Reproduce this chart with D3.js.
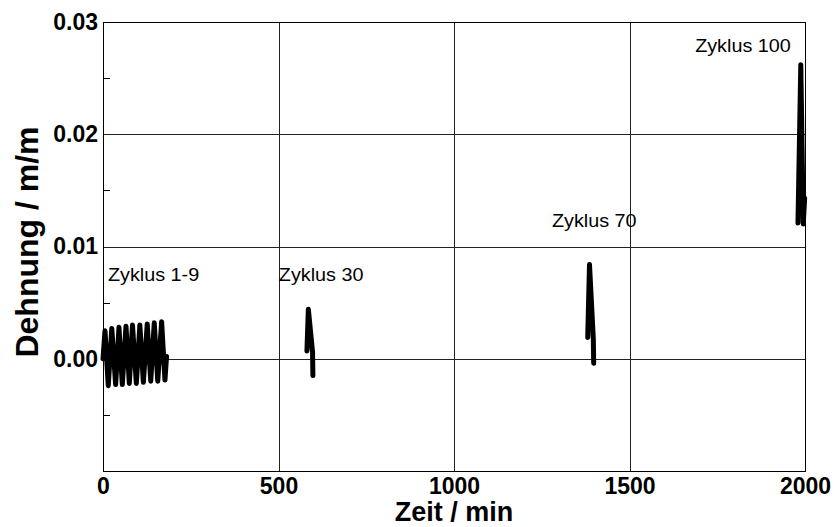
<!DOCTYPE html>
<html>
<head>
<meta charset="utf-8">
<script src="https://cdn.jsdelivr.net/npm/d3@7"></script>
<style>
  body { margin: 0; background: #fff; }
  svg { display: block; font-family: "Liberation Sans", Arial, sans-serif; }
</style>
</head>
<body>
<svg id="chart"></svg>
<script>
// Zyklus 1-9: Zeit (min) und Dehnung (m/m)
var zeit1bis9 = [0, 5.7, 15, 25, 36, 45.5, 55, 65.5, 75, 84, 95, 105, 115, 126, 136, 146, 156, 167, 176.5, 181];
var dehnung1bis9 = [0.0000, 0.0025, -0.0024, 0.0027, -0.0023, 0.0028, -0.0023, 0.0029, -0.0022, 0.0030,
                    -0.0022, 0.0030, -0.0021, 0.0031, -0.0020, 0.0032, -0.0020, 0.0033, -0.0019, 0.0002];

var zeit30 = [581, 585, 597, 598];
var dehnung30 = [0.0007, 0.0044, 0.0006, -0.0015];

var zeit70 = [1381, 1386, 1397, 1398];
var dehnung70 = [0.0019, 0.0084, 0.0017, -0.0004];

var zeit100 = [1980, 1988, 1995, 1999];
var dehnung100 = [0.0121, 0.0262, 0.0120, 0.0143];

var xTicks = [0, 500, 1000, 1500, 2000];
var yTicks = [0.00, 0.01, 0.02, 0.03];
var yMinorTicks = [-0.005, 0.005, 0.015, 0.025];

// Beschriftungen (Zeit, Dehnung)
var beschriftungen = ["Zyklus 1-9", "Zyklus 30", "Zyklus 70", "Zyklus 100"];
var beschriftungZeit = [14, 501, 1279, 1687];
var beschriftungDehnung = [0.0069, 0.0069, 0.0117, 0.0273];

var width = 834, height = 527;
var margin = {top: 22, right: 29, bottom: 56, left: 103};
var w = width - margin.left - margin.right;
var h = height - margin.top - margin.bottom;

var svg = d3.select("#chart").attr("width", width).attr("height", height);
var g = svg.append("g").attr("transform", "translate(" + margin.left + "," + margin.top + ")");

var x = d3.scaleLinear().domain([0, 2000]).range([0, w]);
var y = d3.scaleLinear().domain([-0.01, 0.03]).range([h, 0]);

// Gitter
g.append("g")
  .selectAll("line")
  .data(xTicks.slice(1, -1))
  .enter().append("line")
  .attr("x1", function(d){ return Math.round(x(d)) + 0.5; })
  .attr("x2", function(d){ return Math.round(x(d)) + 0.5; })
  .attr("y1", 0).attr("y2", h)
  .attr("stroke", "#222").attr("stroke-width", 1);

g.append("g")
  .selectAll("line")
  .data(yTicks.slice(0, -1))
  .enter().append("line")
  .attr("x1", 0).attr("x2", w)
  .attr("y1", function(d){ return Math.round(y(d)) + 0.5; })
  .attr("y2", function(d){ return Math.round(y(d)) + 0.5; })
  .attr("stroke", "#222").attr("stroke-width", 1);

// kleine Ticks innen
g.append("g")
  .selectAll("line")
  .data(yMinorTicks)
  .enter().append("line")
  .attr("x1", 0).attr("x2", 7)
  .attr("y1", function(d){ return Math.round(y(d)) + 0.5; })
  .attr("y2", function(d){ return Math.round(y(d)) + 0.5; })
  .attr("stroke", "#000");

// Achsen
var xAxis = g.append("g")
  .attr("transform", "translate(0," + h + ")")
  .call(d3.axisBottom(x).tickValues(xTicks).tickSize(0).tickPadding(7).tickFormat(d3.format("d")));
xAxis.select(".domain").remove();
xAxis.selectAll("text").attr("font-size", 23).attr("font-weight", "bold").attr("fill", "#000")
  .attr("font-family", "Liberation Sans, Arial, sans-serif");

var yAxis = g.append("g")
  .call(d3.axisLeft(y).tickValues(yTicks).tickSize(0).tickPadding(5).tickFormat(d3.format(".2f")));
yAxis.select(".domain").remove();
yAxis.selectAll("text").attr("font-size", 23).attr("font-weight", "bold").attr("fill", "#000")
  .attr("font-family", "Liberation Sans, Arial, sans-serif");

// Rahmen
g.append("rect")
  .attr("x", 0.5).attr("y", 0.5).attr("width", w).attr("height", h)
  .attr("fill", "none").attr("stroke", "#000").attr("stroke-width", 1);

// Kurven
var linie = d3.line()
  .x(function(d){ return x(d[0]); })
  .y(function(d){ return y(d[1]); });

var kurven = [
  d3.zip(zeit1bis9, dehnung1bis9),
  d3.zip(zeit30, dehnung30),
  d3.zip(zeit70, dehnung70),
  d3.zip(zeit100, dehnung100)
];

g.selectAll("path.kurve")
  .data(kurven)
  .enter().append("path")
  .attr("class", "kurve")
  .attr("d", linie)
  .attr("fill", "none")
  .attr("stroke", "#000")
  .attr("stroke-width", 5)
  .attr("stroke-linejoin", "round")
  .attr("stroke-linecap", "round");

// Beschriftungen
g.selectAll("text.zyklus")
  .data(beschriftungen)
  .enter().append("text")
  .attr("class", "zyklus")
  .attr("transform", function(d, i){
    return "translate(" + x(beschriftungZeit[i]) + "," + y(beschriftungDehnung[i]) + ") scale(1.1,1)";
  })
  .attr("font-size", 18)
  .text(function(d){ return d; });

// Achsentitel
svg.append("text")
  .attr("x", margin.left + w / 2)
  .attr("y", 521)
  .attr("text-anchor", "middle")
  .attr("font-size", 27)
  .attr("font-weight", "bold")
  .text("Zeit / min");

svg.append("text")
  .attr("transform", "translate(38," + 242 + ") rotate(-90)")
  .attr("text-anchor", "middle")
  .attr("font-size", 32)
  .attr("font-weight", "bold")
  .text("Dehnung / m/m");
</script>
</body>
</html>
